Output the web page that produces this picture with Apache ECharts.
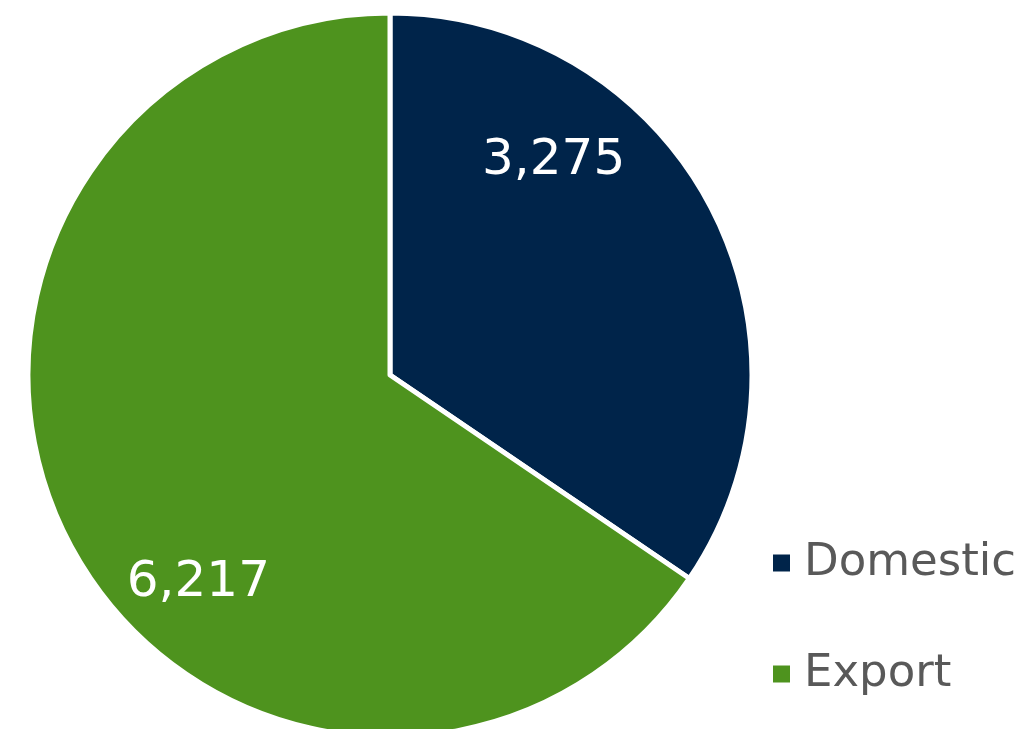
<!DOCTYPE html>
<html>
<head>
<meta charset="utf-8">
<script src="https://cdn.jsdelivr.net/npm/echarts@6/dist/echarts.min.js"></script>
<style>html,body{margin:0;padding:0;background:#fff;}#c{width:1025px;height:729px;}</style>
</head>
<body>
<div id="c"></div>
<script>
const categories = ['Domestic', 'Export'];
const values = [3275, 6217];
const colors = ['#00244A', '#4E931E'];

const chart = echarts.init(document.getElementById('c'));
const labelOffsets = [[1, -128], [-29, 122]];
chart.setOption({
  animation: false,
  legend: {
    orient: 'vertical',
    left: 766,
    top: 533,
    itemWidth: 19,
    itemHeight: 19,
    itemGap: 61,
    icon: 'rect',
    textStyle: { fontFamily: 'DejaVu Sans', fontSize: 45, color: '#595959', lineHeight: 50, padding: [0, 0, 0, 8] },
    data: categories
  },
  series: [{
    type: 'pie',
    center: [390, 375],
    radius: 362,
    startAngle: 90,
    clockwise: true,
    labelLine: { show: false },
    itemStyle: { borderColor: '#fff', borderWidth: 5 },
    emphasis: { disabled: true },
    data: categories.map((n, i) => ({
      name: n,
      value: values[i],
      itemStyle: { color: colors[i] },
      label: {
        show: true,
        position: 'inside',
        offset: labelOffsets[i],
        formatter: p => p.value.toLocaleString('en-US'),
        color: '#fff',
        fontFamily: 'DejaVu Sans',
        fontSize: 50
      }
    }))
  }]
});
</script>
</body>
</html>
